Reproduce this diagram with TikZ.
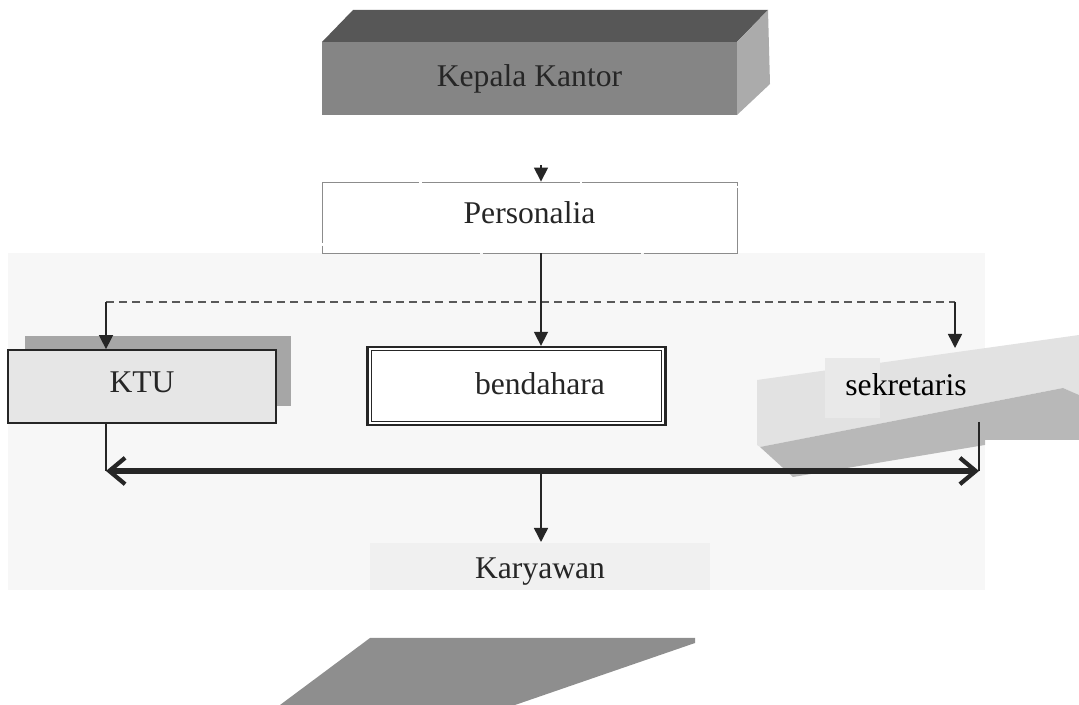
\documentclass[tikz,border=0pt]{standalone}
\usepackage{fontspec}
\setmainfont{Liberation Serif}
\usetikzlibrary{arrows.meta}
\definecolor{ink}{HTML}{262626}
\definecolor{kktop}{HTML}{575757}
\definecolor{kkfront}{HTML}{858585}
\definecolor{kkside}{HTML}{ABABAB}
\definecolor{panel}{HTML}{F7F7F7}
\definecolor{ktufill}{HTML}{E6E6E6}
\definecolor{ktushade}{HTML}{A6A6A6}
\definecolor{sekface}{HTML}{E2E2E2}
\definecolor{sekside}{HTML}{B8B8B8}
\definecolor{sekpatch}{HTML}{E9E9E9}
\definecolor{karpatch}{HTML}{F0F0F0}
\definecolor{base}{HTML}{8E8E8E}
\begin{document}
\begin{tikzpicture}[x=0.02cm,y=-0.02cm,
  lbl/.style={font=\fontsize{18}{20}\selectfont, text=ink, inner sep=0pt},
  link/.style={draw=ink, line width=0.85pt},
  arr/.style={link, -{Triangle[length=8pt,width=8pt]}},
  dashlink/.style={draw=black!65, line width=0.8pt, dash pattern=on 4.5pt off 3pt},
  bus/.style={draw=ink, line width=3.1pt,
    {Straight Barb[length=9pt,width=15pt,line width=2.4pt]}-{Straight Barb[length=9pt,width=15pt,line width=2.4pt]}}
]
\useasboundingbox (0,0) rectangle (1079,705);

% light panel behind the lower levels
\fill[panel] (8,253) rectangle (985,590);

% ---- Kepala Kantor: box drawn in three faces
\fill[kktop] (322,42) -- (353,10) -- (768,10) -- (737,42) -- cycle;
\fill[kkside] (737,42) -- (768,10) -- (770,84) -- (737,115) -- cycle;
\node[lbl, fill=kkfront, minimum width=8.3cm, minimum height=1.46cm] (kk) at (529.5,78.5) {Kepala Kantor};

% ---- Personalia
\node[lbl, draw=black!45, line width=0.5pt, dash pattern=on 90pt off 1.5pt,
      minimum width=8.3cm, minimum height=1.42cm, fill=white] (per) at (529.5,217.5) {};
\node[lbl] (pertext) at (529.5,213) {Personalia};
\coordinate (col) at (541,165);
\draw[arr] (col) -- (col |- per.north);

% ---- KTU with its shadow
\fill[ktushade] (25,336) rectangle (291,406);
\node[lbl, draw=ink, line width=1pt, fill=ktufill, minimum width=5.36cm, minimum height=1.46cm] (ktu) at (142,386.5) {};
\node[lbl] at (142,382) {KTU};

% ---- bendahara (double frame)
\node[lbl, draw=ink, line width=1.3pt, fill=white, minimum width=5.96cm, minimum height=1.56cm] (ben) at (516.5,386) {};
\draw[ink, line width=0.6pt] ([shift={(5,5)}]ben.north west) rectangle ([shift={(-5,-5)}]ben.south east);
\node[lbl] at (540,384) {bendahara};

% ---- sekretaris: tilted slab
\fill[sekface] (757,380) -- (1079,335) -- (1079,395) -- (1063,388) -- (760,447) -- (757,445) -- cycle;
\fill[sekside] (760,447) -- (1063,388) -- (1079,395) -- (1079,440) -- (985,440) -- (985,445) -- (793,477) -- cycle;
\fill[sekpatch] (825,358) rectangle (880,418);
\node[lbl, text=black] (sek) at (906,385) {sekretaris};
\coordinate (sektop) at (955,348);
\coordinate (sekfoot) at (979,422);

% ---- dashed distribution line
\coordinate (dl) at (106,302);
\coordinate (dr) at (955,302);
\draw[dashlink] (dl) -- (dr);
\draw[arr] (dl) -- (dl |- ktu.north);
\draw[arr] (dr) -- (sektop);
\draw[arr] (col |- per.south) -- (col |- ben.north);

% ---- horizontal bus between KTU and sekretaris
\coordinate (bl) at (106,471);
\coordinate (br) at (979,471);
\draw[link] (bl |- ktu.south) -- (bl);
\draw[link] (sekfoot) -- (br);
\draw[bus] (bl) -- (br);

% ---- Karyawan
\fill[karpatch] (370,543) rectangle (710,590);
\node[lbl] (kar) at (540,572) {Karyawan};
\draw[arr] (col |- bl) -- (541,542);

% ---- base slab
\fill[base] (280,705) -- (370,638) -- (695,638) -- (695,643) -- (515,705) -- cycle;
\end{tikzpicture}
\end{document}
